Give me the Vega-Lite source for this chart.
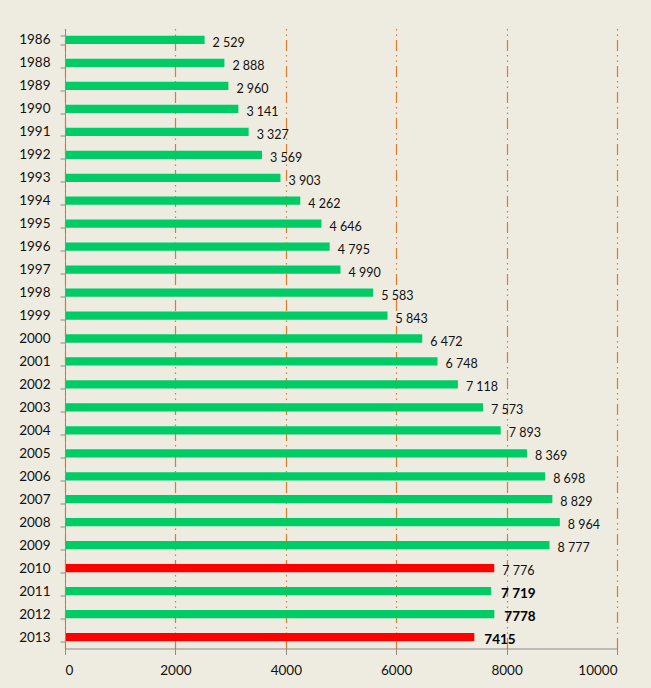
{
  "$schema": "https://vega.github.io/schema/vega-lite/v6.json",
  "autosize": "none",
  "width": 552,
  "height": 620,
  "padding": {"left": 65, "top": 28.5, "right": 34, "bottom": 39.5},
  "background": "#EEEBE0",
  "config": {
    "view": {"stroke": null},
    "font": "Lato",
    "axis": {"labelFont": "Lato", "labelColor": "#111111", "labelFontSize": 13.5, "labelFontWeight": 400}
  },
  "data": {
    "values": [
      {"year": "1986", "value": 2529, "label": "2 529"},
      {"year": "1988", "value": 2888, "label": "2 888"},
      {"year": "1989", "value": 2960, "label": "2 960"},
      {"year": "1990", "value": 3141, "label": "3 141"},
      {"year": "1991", "value": 3327, "label": "3 327"},
      {"year": "1992", "value": 3569, "label": "3 569"},
      {"year": "1993", "value": 3903, "label": "3 903"},
      {"year": "1994", "value": 4262, "label": "4 262"},
      {"year": "1995", "value": 4646, "label": "4 646"},
      {"year": "1996", "value": 4795, "label": "4 795"},
      {"year": "1997", "value": 4990, "label": "4 990"},
      {"year": "1998", "value": 5583, "label": "5 583"},
      {"year": "1999", "value": 5843, "label": "5 843"},
      {"year": "2000", "value": 6472, "label": "6 472"},
      {"year": "2001", "value": 6748, "label": "6 748"},
      {"year": "2002", "value": 7118, "label": "7 118"},
      {"year": "2003", "value": 7573, "label": "7 573"},
      {"year": "2004", "value": 7893, "label": "7 893"},
      {"year": "2005", "value": 8369, "label": "8 369"},
      {"year": "2006", "value": 8698, "label": "8 698"},
      {"year": "2007", "value": 8829, "label": "8 829"},
      {"year": "2008", "value": 8964, "label": "8 964"},
      {"year": "2009", "value": 8777, "label": "8 777"},
      {"year": "2010", "value": 7776, "label": "7 776"},
      {"year": "2011", "value": 7719, "label": "7 719"},
      {"year": "2012", "value": 7778, "label": "7778"},
      {"year": "2013", "value": 7415, "label": "7415"}
    ]
  },
  "encoding": {
    "y": {
      "field": "year",
      "type": "nominal",
      "sort": null,
      "scale": {"paddingInner": 0.64, "paddingOuter": 0.32},
      "axis": {
        "title": null,
        "domainColor": "#8C8C8C",
        "tickColor": "#8C8C8C",
        "tickSize": 5,
        "tickBand": "extent",
        "labelPadding": 10,
        "zindex": 1
      }
    },
    "x": {
      "field": "value",
      "type": "quantitative",
      "scale": {"domain": [0, 10000], "nice": false},
      "axis": {
        "title": null,
        "values": [0, 2000, 4000, 6000, 8000, 10000],
        "format": "d",
        "grid": true,
        "gridColor": "#E3782F",
        "gridDash": [11, 4, 1.5, 4, 1.5, 4],
        "gridWidth": 1.2,
        "domainColor": "#8C8C8C",
        "tickColor": "#8C8C8C",
        "tickSize": 6,
        "labelPadding": 9,
        "zindex": 0
      }
    }
  },
  "layer": [
    {
      "mark": {"type": "bar"},
      "encoding": {
        "color": {
          "condition": {"test": "datum.year === '2010' || datum.year === '2013'", "value": "#FF0000"},
          "value": "#00CC66"
        }
      }
    },
    {
      "transform": [{"filter": "toNumber(datum.year) < 2011"}],
      "mark": {"type": "text", "align": "left", "baseline": "middle", "dx": 8, "dy": 3, "fontSize": 12.5, "fontWeight": 400, "color": "#111111", "font": "Lato"},
      "encoding": {"text": {"field": "label"}}
    },
    {
      "transform": [{"filter": "toNumber(datum.year) >= 2011"}],
      "mark": {"type": "text", "align": "left", "baseline": "middle", "dx": 10, "dy": 3, "fontSize": 13.5, "fontWeight": "bold", "color": "#000000", "font": "Lato"},
      "encoding": {"text": {"field": "label"}}
    }
  ]
}
